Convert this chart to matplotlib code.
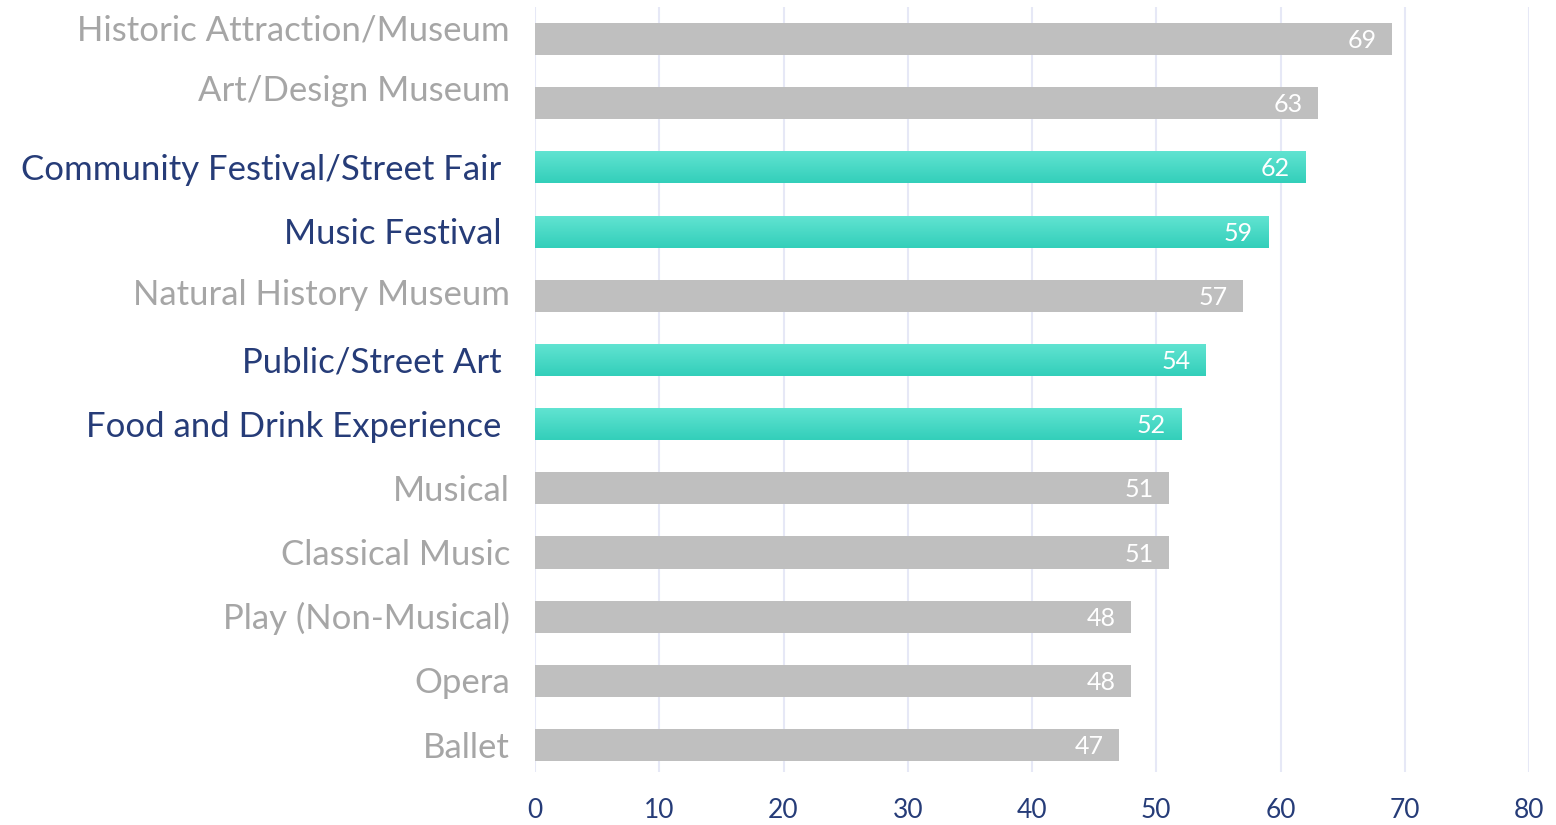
import numpy as np
import matplotlib
matplotlib.use("Agg")
import matplotlib.pyplot as plt
from matplotlib.colors import LinearSegmentedColormap

plt.rcParams['font.family'] = ['Lato', 'DejaVu Sans']

categories = ["Historic Attraction/Museum", "Art/Design Museum", "Community Festival/Street Fair",
              "Music Festival", "Natural History Museum", "Public/Street Art",
              "Food and Drink Experience", "Musical", "Classical Music",
              "Play (Non-Musical)", "Opera", "Ballet"]
values = [69, 63, 62, 59, 57, 54, 52, 51, 51, 48, 48, 47]
highlight = [False, False, True, True, False, True, True, False, False, False, False, False]
xticks = [0, 10, 20, 30, 40, 50, 60, 70, 80]

# style: small vertical nudges (points) of the category labels, as in the reference
label_nudge = [8.3, 10.4, 0, 0, 2.5, 0, 0, 0, 0, 0, 0, 0]

GRAY_BAR = "#BFBFBF"
GRAY_TEXT = "#A6A6A6"
NAVY = "#263C78"
GRID = "#E6E8F6"
TEAL_TOP = "#62E4D2"
TEAL_BOT = "#33CFBA"

fig = plt.figure(figsize=(15.56, 8.25), dpi=100)
ax = fig.add_axes([535/1556, 1-772/825, (1529-535)/1556, (772-7)/825])

ypos = np.arange(len(categories))
bars = ax.barh(ypos, values, height=0.5, color=GRAY_BAR, zorder=2)

cmap = LinearSegmentedColormap.from_list("teal", [TEAL_TOP, TEAL_BOT])
grad = np.linspace(0, 1, 64).reshape(-1, 1)
for b, h in zip(bars, highlight):
    if h:
        b.set_facecolor(TEAL_BOT)
        x0, y0, w, hh = b.get_x(), b.get_y(), b.get_width(), b.get_height()
        im = ax.imshow(grad, cmap=cmap, aspect='auto', extent=(x0, x0 + w, y0 + hh, y0),
                       origin='upper', zorder=3, interpolation='bilinear')
        im.set_clip_path(b)

vfs = 18
for b, v in zip(bars, values):
    ax.annotate(f"{v}", xy=(b.get_x() + b.get_width(), b.get_y() + b.get_height()/2),
                xytext=(-11, -0.36 * vfs), textcoords='offset points', ha='right', va='baseline',
                color='white', fontsize=vfs, zorder=5)

for i, (c, h) in enumerate(zip(categories, highlight)):
    fs = 25
    ax.annotate(c, xy=(0, i), xycoords=('axes fraction', 'data'),
                xytext=(-24 if h else -18, -0.36 * fs + label_nudge[i]), textcoords='offset points',
                ha='right', va='baseline', fontsize=fs,
                color=NAVY if h else GRAY_TEXT)

ax.set_xlim(0, 80)
ax.set_ylim(11.42, -0.5)
ax.set_xticks(xticks)
ax.set_xticklabels([str(t) for t in xticks], color=NAVY, fontsize=19)
ax.tick_params(axis='x', length=0, pad=19)
ax.set_yticks([])
ax.grid(axis='x', color=GRID, linewidth=1.5, zorder=0)
ax.set_axisbelow(True)
for s in ax.spines.values():
    s.set_visible(False)

fig.savefig("out.png", dpi=100)
